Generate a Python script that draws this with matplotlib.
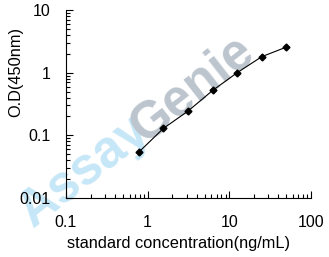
import numpy as np
import matplotlib
matplotlib.use("Agg")
import matplotlib.pyplot as plt
from matplotlib.ticker import LogLocator, NullFormatter, FixedFormatter, FixedLocator

plt.rcParams["font.family"] = ["Liberation Sans", "DejaVu Sans"]

conc = [0.78, 1.56, 3.125, 6.25, 12.5, 25, 50]
od = [0.054, 0.129, 0.244, 0.52, 1.0, 1.8, 2.56]

x_ticks = [0.1, 1, 10, 100]
x_labels = ["0.1", "1", "10", "100"]
y_ticks = [0.01, 0.1, 1, 10]
y_labels = ["0.01", "0.1", "1", "10"]

fig = plt.figure(figsize=(3.29, 2.57), dpi=100)
ax = fig.add_axes([0.2006, 0.2296, 0.7444, 0.7314])

# watermark, drawn behind the axes
fig.text(0.255, 0.335, "Assay", color="#c6e7f7", fontsize=37,
         fontweight="bold", rotation=38, ha="center", va="center",
         rotation_mode="anchor", zorder=-1)
fig.text(0.585, 0.655, "Genie", color="#bcc5ce", fontsize=37,
         fontweight="bold", rotation=38, ha="center", va="center",
         rotation_mode="anchor", zorder=-1)

ax.plot(conc, od, color="black", linewidth=0.8, marker="D", markersize=3.5)

ax.set_xscale("log")
ax.set_yscale("log")
ax.set_xlim(0.1, 100)
ax.set_ylim(0.01, 10)
ax.patch.set_alpha(0)

ax.spines["top"].set_visible(False)
ax.spines["right"].set_visible(False)

ax.xaxis.set_major_locator(FixedLocator(x_ticks))
ax.xaxis.set_major_formatter(FixedFormatter(x_labels))
ax.yaxis.set_major_locator(FixedLocator(y_ticks))
ax.yaxis.set_major_formatter(FixedFormatter(y_labels))
ax.xaxis.set_minor_locator(LogLocator(base=10, subs=np.arange(2, 10)))
ax.yaxis.set_minor_locator(LogLocator(base=10, subs=np.arange(2, 10)))
ax.xaxis.set_minor_formatter(NullFormatter())
ax.yaxis.set_minor_formatter(NullFormatter())

ax.tick_params(which="major", direction="in", length=5, width=0.8, labelsize=11.5)
ax.tick_params(which="minor", direction="in", length=3, width=0.8)
ax.tick_params(axis="x", which="major", pad=12)
ax.tick_params(axis="y", which="major", pad=11)

ax.set_xlabel("standard concentration(ng/mL)", fontsize=11.8)
ax.set_ylabel("O.D(450nm)", fontsize=11.8)
ax.xaxis.set_label_coords(0.46, -0.2)
ax.yaxis.set_label_coords(-0.175, 0.67)

fig.savefig("out.png", dpi=100)
